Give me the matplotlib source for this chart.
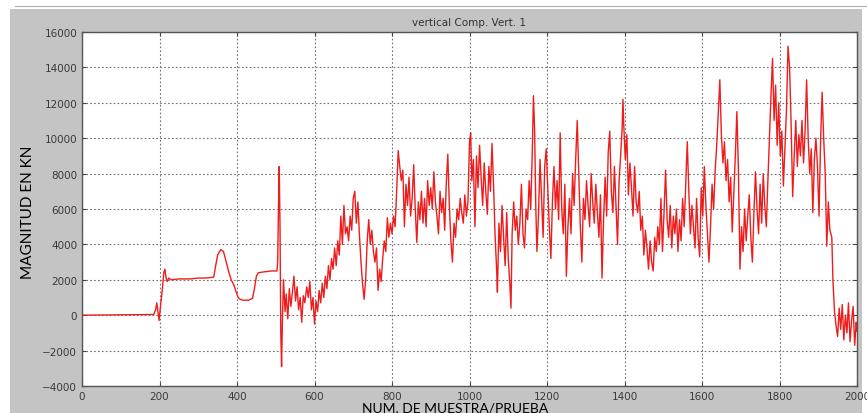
import matplotlib.pyplot as plt
from matplotlib.patches import Rectangle

# sample number and magnitude (kN)
samples = [0, 50, 100, 150, 185, 190, 193, 196, 199, 202, 205, 208, 211, 214, 217, 220, 224, 230, 250, 280,
           300, 320, 340, 345, 350, 358, 365, 370, 378, 385, 392, 398, 403, 408, 415, 430, 440, 445, 450, 455,
           470, 490, 503, 505, 507, 509, 511, 513, 515, 517,
           520, 524, 527, 531, 535, 539, 543, 547, 551, 555, 559, 563, 567, 571, 575, 580, 584, 588, 592, 596,
           600, 604, 608, 612, 616, 620, 624, 628, 632, 636, 640, 644, 648, 652, 656, 660, 664, 668, 672, 676,
           680, 684, 688, 692, 696, 700, 704, 708, 712, 716, 720, 724, 728, 732, 736, 740, 744, 748, 752, 756,
           760, 764, 768, 772, 776, 780, 784, 788, 792, 796, 800, 804, 808, 812, 816, 820, 824, 828, 832, 836,
           840, 844, 848, 852, 856, 860, 864, 868, 872, 876, 880, 884, 888, 892, 896, 900, 904, 908, 912, 916,
           920, 924, 928, 932, 936, 940, 944, 948, 952, 956, 960, 964, 968, 972, 976, 980, 984, 988, 992, 996,
           1000, 1003, 1006, 1010, 1014, 1018, 1022, 1026, 1030, 1034, 1038, 1042, 1046, 1050, 1054, 1058, 1062, 1066, 1070, 1072,
           1076, 1080, 1084, 1088, 1092, 1096, 1100, 1104, 1107, 1110, 1114, 1118, 1122, 1126, 1130, 1134, 1138, 1142, 1146, 1150,
           1154, 1158, 1162, 1165, 1168, 1171, 1174, 1178, 1182, 1186, 1190, 1194, 1198, 1202, 1206, 1210, 1214, 1218, 1222, 1226,
           1230, 1234, 1238, 1242, 1246, 1250, 1254, 1258, 1262, 1266, 1270, 1274, 1278, 1282, 1286, 1290, 1294, 1298, 1302, 1306,
           1310, 1314, 1318, 1322, 1326, 1330, 1334, 1338, 1342, 1346, 1350, 1354, 1358, 1362, 1366, 1370, 1374, 1378, 1382, 1386,
           1390, 1394, 1396, 1398, 1402, 1406, 1410, 1414, 1418, 1422, 1426, 1430, 1434, 1438, 1442, 1446, 1450, 1454, 1458, 1462,
           1466, 1470, 1474, 1478, 1482, 1486, 1490, 1494, 1498, 1502, 1506, 1510, 1514, 1518, 1522, 1526, 1530, 1534, 1538, 1542,
           1546, 1550, 1554, 1558, 1562, 1566, 1570, 1574, 1578, 1582, 1586, 1590, 1594, 1598, 1602, 1606, 1610, 1614, 1618, 1622,
           1626, 1630, 1634, 1638, 1642, 1646, 1650, 1654, 1658, 1662, 1666, 1670, 1674, 1678, 1682, 1686, 1690, 1694, 1698, 1702,
           1706, 1710, 1714, 1718, 1722, 1726, 1730, 1734, 1738, 1742, 1746, 1750, 1754, 1758, 1762, 1766, 1770, 1774, 1778, 1782,
           1786, 1790, 1794, 1798, 1802, 1806, 1810, 1814, 1818, 1822, 1826, 1830, 1834, 1838, 1842, 1846, 1850, 1854, 1858, 1862,
           1866, 1870, 1874, 1878, 1882, 1886, 1890, 1894, 1898, 1902, 1906, 1910, 1914, 1918, 1922, 1926, 1930, 1935, 1938, 1942,
           1946, 1950, 1954, 1958, 1962, 1966, 1970, 1974, 1978, 1982, 1986, 1990, 1994, 1998, 2000]
magnitude = [0, 10, 20, 30, 40, 300, 700, 200, -300, 400, 1000, 1600, 2400, 2600, 2100, 1900, 2100, 2000, 2050, 2050,
             2100, 2100, 2150, 2800, 3400, 3700, 3600, 3200, 2500, 2000, 1700, 1300, 1000, 900, 850, 850, 950, 1500, 2200, 2400,
             2450, 2500, 2500, 3000, 6000, 8400, 5000, -1000, -2900, -500,
             2000, 200, 1200, -200, 1500, 500, 1300, 2200, 800, 1600, 300, 1000, -400, 1100, 700, 1600, 1000, 1900, 300, 1000,
             -500, 800, 200, 1400, 700, 1800, 1000, 2200, 1500, 2800, 2000, 3200, 2600, 3800, 2800, 4200, 3400, 5600, 4000, 6200,
             4600, 5000, 4200, 5600, 4800, 6600, 7000, 5200, 6400, 4500, 3000, 1800, 900, 2000, 4200, 5400, 4000, 4800, 3600, 3000,
             3800, 1400, 2600, 1900, 3200, 4200, 3600, 5500, 4400, 5200, 4600, 5600, 5000, 7000, 9300, 8400, 7600, 8200, 5000, 7400,
             6200, 7800, 5600, 6600, 8500, 6000, 4100, 6400, 5400, 7000, 5200, 6600, 5000, 7600, 6200, 7200, 6000, 8100, 6400, 5600,
             4600, 7000, 5800, 6600, 4800, 7400, 9100, 6200, 4200, 3000, 5200, 4400, 6000, 5400, 6600, 5800, 5200, 6800, 5600, 6400,
             9800, 10300, 7600, 8800, 5000, 9000, 7200, 9600, 7800, 6200, 8600, 7000, 5700, 8400, 7000, 9700, 7400, 4500, 2600, 1300,
             5200, 3600, 6200, 4400, 2800, 5800, 3200, 1800, 400, 4600, 6400, 4800, 5600, 4000, 5200, 7400, 4600, 3800, 6000, 5400,
             7600, 6000, 9200, 12400, 10500, 6200, 3600, 5600, 8800, 6600, 4400, 8400, 9400, 7200, 5000, 3200, 6400, 8400, 6000, 7600,
             5400, 10300, 6000, 4600, 7400, 2200, 5000, 6600, 4600, 8000, 6200, 8800, 11000, 8000, 5000, 3000, 6600, 5400, 7600, 6200,
             5000, 8000, 6400, 5200, 7400, 5800, 4400, 6800, 2100, 5400, 7800, 5600, 9200, 10400, 7000, 5800, 8400, 6200, 4000, 7600,
             9000, 10600, 12200, 10800, 8800, 10200, 6800, 8600, 7200, 5600, 8400, 6400, 5800, 7000, 4800, 5600, 3400, 4800, 3800, 2600,
             4200, 3000, 2500, 4400, 3600, 5000, 4000, 6600, 3600, 5800, 8200, 5400, 4400, 6200, 3800, 5600, 4600, 6000, 3600, 5400,
             4200, 6600, 5000, 7400, 9800, 7000, 4600, 6200, 5000, 3800, 6600, 4400, 3300, 7200, 5600, 8400, 6200, 4600, 3000, 5000,
             7400, 6000, 8200, 9600, 11400, 13300, 10200, 8600, 9800, 7600, 8800, 6400, 7800, 4700, 6800, 9000, 11500, 8200, 2600, 5000,
             3600, 6000, 4200, 5600, 6800, 4400, 3000, 5800, 8100, 6000, 4600, 7400, 5200, 8000, 6200, 5000, 7600, 10000, 12400, 14500,
             11000, 13000, 9600, 12000, 9000, 10400, 7300, 9400, 11600, 15200, 14000, 10800, 6700, 9000, 11000, 8400, 10200, 9000, 11000, 8600,
             10400, 13300, 10000, 8000, 9400, 5800, 8800, 10000, 8400, 5600, 9800, 12600, 10000, 8000, 3900, 6400, 4800, 4400, 1900, 200,
             -600, -1200, 400, -800, 600, -1400, 0, -1000, 700, -1500, -300, 500, -1700, -400, -900]

x_ticks = list(range(0, 2001, 200))
y_ticks = list(range(-4000, 16001, 2000))

fig = plt.figure(figsize=(8.67, 4.14), dpi=100)
fig.patch.set_facecolor('white')

# grey matlab-style panel behind the axes
fig.patches.append(Rectangle((10 / 867, 0), 852 / 867, 404 / 414, transform=fig.transFigure,
                             facecolor='#c4c4c4', edgecolor='none', zorder=-5))
fig.add_artist(plt.Line2D([15 / 867, 1], [407 / 414, 407 / 414], transform=fig.transFigure,
                          color='#b0b0b0', lw=0.8, zorder=-5))

ax = fig.add_axes([82 / 867, 1 - 387 / 414, 775 / 867, 354 / 414])
ax.set_zorder(1)
ax.set_facecolor('white')
ax.plot(samples, magnitude, color='#ee1c1c', lw=1.0)

ax.set_xlim(0, 2000)
ax.set_ylim(-4000, 16000)
ax.set_xticks(x_ticks)
ax.set_yticks(y_ticks)
ax.tick_params(direction='in', top=True, right=True, labelsize=7.5, labelcolor='#3a3a3a',
               color='#444444', length=3)
ax.grid(True, color='#707070', linestyle=(0, (1.5, 2)), lw=0.8)
for s in ax.spines.values():
    s.set_color('#555555')
    s.set_linewidth(1.0)

ax.set_title('vertical Comp. Vert. 1', fontsize=7.5, color='#333333', pad=5)
fig.text(28 / 867, 1 - 212 / 414, 'MAGNITUD EN KN', rotation=90, ha='center', va='center',
         fontsize=11, family='Lato', color='black')
fig.text(455 / 867, 1 - 413 / 414, 'NUM. DE MUESTRA/PRUEBA', ha='center', va='baseline',
         fontsize=10, family='Lato', color='black')

fig.savefig('out.png', dpi=100, facecolor=fig.get_facecolor())
